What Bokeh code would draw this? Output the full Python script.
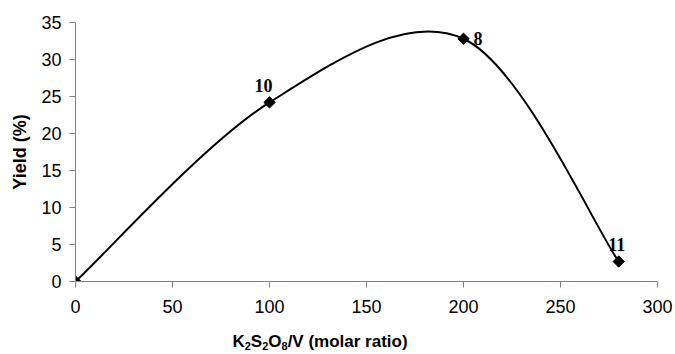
import math
from bokeh.plotting import figure
from bokeh.layouts import column
from bokeh.models import Range1d, SingleIntervalTicker, Div
from bokeh.core.properties import value
from bokeh.embed import file_html
from bokeh.resources import INLINE

# Oxidant ratio experiments
ratio = [0, 100, 200, 280]
yield_pct = [0.0, 24.2, 32.8, 2.7]
run_labels = ["", "10", "8", "11"]

x_ticks_step = 50
y_ticks_step = 5

p = figure(width=675, height=322, output_backend="svg", toolbar_location=None,
           x_range=Range1d(0, 300), y_range=Range1d(0, 35),
           min_border_left=75, min_border_right=18, min_border_top=22, min_border_bottom=41)
p.outline_line_color = None
p.grid.visible = False
p.background_fill_color = "white"
p.border_fill_color = "white"

# Smoothed curve: Catmull-Rom segments expressed as cubic Beziers
n = len(ratio)
x0, y0, x1, y1, cx0, cy0, cx1, cy1 = [], [], [], [], [], [], [], []
for i in range(n - 1):
    pa = (ratio[max(i - 1, 0)], yield_pct[max(i - 1, 0)])
    pb = (ratio[i], yield_pct[i])
    pc = (ratio[i + 1], yield_pct[i + 1])
    pd = (ratio[min(i + 2, n - 1)], yield_pct[min(i + 2, n - 1)])
    x0.append(pb[0]); y0.append(pb[1]); x1.append(pc[0]); y1.append(pc[1])
    cx0.append(pb[0] + (pc[0] - pa[0]) / 6); cy0.append(pb[1] + (pc[1] - pa[1]) / 6)
    cx1.append(pc[0] - (pd[0] - pb[0]) / 6); cy1.append(pc[1] - (pd[1] - pb[1]) / 6)
p.bezier(x0=x0, y0=y0, x1=x1, y1=y1, cx0=cx0, cy0=cy0, cx1=cx1, cy1=cy1,
         line_color="black", line_width=2)

p.scatter(ratio, yield_pct, marker="square", angle=math.pi / 4, size=8, color="black")

lab_font = value("Liberation Serif")
common = dict(text_font=lab_font, text_font_style="bold", text_font_size="18px",
              text_baseline="alphabetic", text_color="black")
p.text(x=[ratio[1]], y=[yield_pct[1]], text=[run_labels[1]], text_align="center",
       x_offset=-6, y_offset=-17, **common)
p.text(x=[ratio[2]], y=[yield_pct[2]], text=[run_labels[2]], text_align="left",
       x_offset=10, y_offset=0, **common)
p.text(x=[ratio[3]], y=[yield_pct[3]], text=[run_labels[3]], text_align="center",
       x_offset=-2, y_offset=-17, **common)

ax_col = "#808080"
for ax in (p.xaxis[0], p.yaxis[0]):
    ax.axis_line_color = ax_col
    ax.axis_line_width = 1
    ax.major_tick_line_color = ax_col
    ax.major_tick_in = 0
    ax.major_tick_out = 6
    ax.minor_tick_line_color = None
    ax.major_label_text_font = "Liberation Sans"
    ax.major_label_text_font_size = "18px"
    ax.major_label_text_color = "black"
    ax.axis_label_text_font = "Liberation Sans"
    ax.axis_label_text_font_style = "bold"
    ax.axis_label_text_font_size = "18px"
    ax.axis_label_text_color = "black"

p.xaxis.ticker = SingleIntervalTicker(interval=x_ticks_step)
p.yaxis.ticker = SingleIntervalTicker(interval=y_ticks_step)
p.xaxis.major_label_standoff = 12
p.yaxis.major_label_standoff = 8
p.yaxis.axis_label = "Yield (%)"
p.yaxis.axis_label_standoff = 8

# x-axis title with real subscripts
sub = '<sub style="font-size:11px; vertical-align:-3px; line-height:0">{}</sub>'
xtitle = Div(text="K" + sub.format("2") + "S" + sub.format("2") + "O" + sub.format("8")
             + "/V (molar ratio)",
             width=630, height=32,
             styles={"text-align": "center", "font-family": "Liberation Sans",
                     "font-weight": "bold", "font-size": "17px", "color": "black",
                     "line-height": "20px", "padding-top": "5px",
                     "background-color": "white"})

layout = column(p, xtitle, spacing=0, styles={"background-color": "white"})
open("out.html", "w").write(file_html(layout, INLINE))
